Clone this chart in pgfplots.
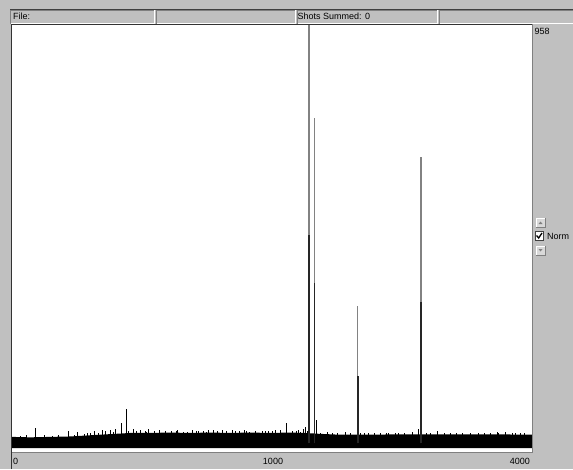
\documentclass[border=0pt]{standalone}
\usepackage{pgfplots}
\pgfplotsset{compat=1.18}
\usepackage{fontspec}
\setmainfont{Liberation Sans}
\definecolor{wingray}{RGB}{192,192,192}
\definecolor{darkg}{RGB}{128,128,128}
\definecolor{peakg}{RGB}{130,130,130}
\begin{document}
\begin{tikzpicture}[font=\fontsize{9}{10}\selectfont]
\begin{scope}[x=1pt,y=1pt]
\useasboundingbox (0,0) rectangle (573,469);
\fill[wingray] (0,0) rectangle (573,469);
% status bar
\draw[black!75,line width=1pt] (10,459.5) -- (573,459.5);
\foreach \a/\b in {10/154,156/295,297/437,439/573}{
  \draw[darkg,line width=0.8pt] (\a+0.5,445) -- (\a+0.5,459) -- (\b,459);
  \draw[white,line width=0.8pt] (\a+0.5,445.4) -- (\b,445.4) -- (\b,459);
}
\node[anchor=west,inner sep=0pt] at (13,452.5) {File:};
\node[anchor=west,inner sep=0pt] at (297.5,452.5) {Shots Summed: 0};
% plot area
\fill[white] (12,17) rectangle (532,444);
\end{scope}
\begin{axis}[at={(12pt,17pt)},anchor=south west,scale only axis,
  width=520pt,height=427pt,xmin=0,xmax=4000,ymin=-20.6,ymax=958,
  axis line style={draw=none},xtick=\empty,ytick=\empty,
  clip=true,
  x coord trafo/.code={\pgfmathparse{sqrt(#1)}}]
% baseline noise band
\addplot[fill=black,draw=none] coordinates {
 (0,14) (4.8,13) (21.4,14) (49.8,15) (78.8,17) (114.5,19) (157,21) (206,23)
 (281.7,23) (369,24) (468.7,23) (580,24) (703,23) (838,24) (984.6,23)
 (1143,24) (1270,23) (1403,21) (1591,19) (1896,19) (2227,20) (2585,20)
 (2968,20) (3380,20) (4000,19)
 (4000,-11.5) (0,-11.5)} -- cycle;
% small spikes
\addplot[ycomb,black,line width=1pt] coordinates {
 (7.83,34.4) (46.4,27.5) (64.4,25.2) (85.4,24) (101.9,27.5) (122.5,29.8)
 (130.7,27) (142.1,29.8) (160,32.1) (175.8,45.8) (192.3,77.9) (216.6,32.1)
 (231,28) (242.4,29.8) (261.7,28) (277.6,32.1) (302.5,28) (324,29.8)
 (350.8,28) (378.7,27.5) (407.6,30) (432.6,25.2) (479.3,29.8) (511.8,28)
 (539.7,27.5) (568.3,29) (597.7,29.8) (627.7,28) (652.4,29.8) (683.8,27)
 (716,29.8) (742.2,28) (769,27.5) (803.1,29) (837.9,25.2) (880.6,28)
 (924.6,27.5) (954.3,28) (1000,27.5) (1030.9,29) (1070.4,29.8) (1110.6,45.8)
 (1159.8,28) (1193.2,27.5) (1218.4,29) (1252.7,32.1) (1270,36.7) (1287.4,27.5)
 (1367.1,52.7) (1467.9,25.2) (1562.5,22.9) (1640.4,25) (1791.5,23)
 (1874.8,22.9) (2003.4,22.9) (2069.2,23) (2170,22.9) (2273.2,22.9)
 (2366.9,25.2) (2438.4,32.1) (2584.7,23) (2672,27.5) (2838,22) (2995.6,23)
 (3103,23) (3212.4,22) (3380,22) (3479.7,25) (3595.4,25) (3742.8,22) (3817.6,22)};
% finer noise on the band edge
\addplot[ycomb,black,line width=0.8pt] coordinates {
 (0.95,17) (2.9,19) (15.1,18) (23.7,17) (31.3,19) (56.9,19) (76.7,21)
 (90,22) (109.4,23) (150.9,26) (199.1,27) (265.6,26) (298.3,27) (346.3,26)
 (397.9,28) (453,26) (500.8,27) (556.7,26) (621.7,27) (677.4,26) (810,27)
 (873.5,26) (969.5,27) (1227,26) (1403.3,24) (1514.8,23) (1690,22)
 (1832.9,22) (1938.5,23) (2091.4,22) (2204.1,23) (2535.5,22) (2760.7,23)
 (2916.3,22) (3295.7,23) (3494,22) (3698.3,23) (3877.9,22)};
% main peaks: light upper part and dark lower part
\addplot[ycomb,peakg,line width=1.4pt] coordinates {
 (1304.9,958) (1353.7,744.9) (1767.9,314) (2474.6,655.5)};
\addplot[ycomb,black!85,line width=1.9pt] coordinates {
 (1304.9,476.7) (1353.7,366.7) (1767.9,153.6) (2474.6,323.2)};
\end{axis}
\begin{scope}[x=1pt,y=1pt]
\draw[black!80,line width=1pt] (11.5,0) -- (11.5,444.5) -- (532,444.5);
\draw[darkg,line width=1pt] (532.5,444.5) -- (532.5,16.5) -- (12,16.5);
% tick labels
\node[anchor=west,inner sep=0pt] at (13,8) {0};
\node[inner sep=0pt] at (273,8) {1000};
\node[anchor=east,inner sep=0pt] at (530,8) {4000};
% right panel
\node[anchor=west,inner sep=0pt] at (534.5,438) {958};
\fill[black!15] (536,242) rectangle (545,251);
\draw[white,line width=0.7pt] (536,242) -- (536,251) -- (545,251);
\draw[darkg,line width=0.7pt] (536,242) -- (545,242) -- (545,251);
\fill[darkg] (538.5,245) -- (542.5,245) -- (540.5,247.5) -- cycle;
\fill[black!15] (536,214) rectangle (545,223);
\draw[white,line width=0.7pt] (536,214) -- (536,223) -- (545,223);
\draw[darkg,line width=0.7pt] (536,214) -- (545,214) -- (545,223);
\fill[darkg] (538.5,220) -- (542.5,220) -- (540.5,217.5) -- cycle;
\draw[black!75,fill=white,line width=0.8pt] (535,229) rectangle (543.5,237.5);
\draw[black,line width=1.3pt] (536.5,233.5) -- (538.7,231) -- (542,236);
\begin{scope}
\clip (546,220) rectangle (573,246);
\node[anchor=west,inner sep=0pt] at (547,233) {Norm};
\end{scope}
\end{scope}
\end{tikzpicture}
\end{document}
